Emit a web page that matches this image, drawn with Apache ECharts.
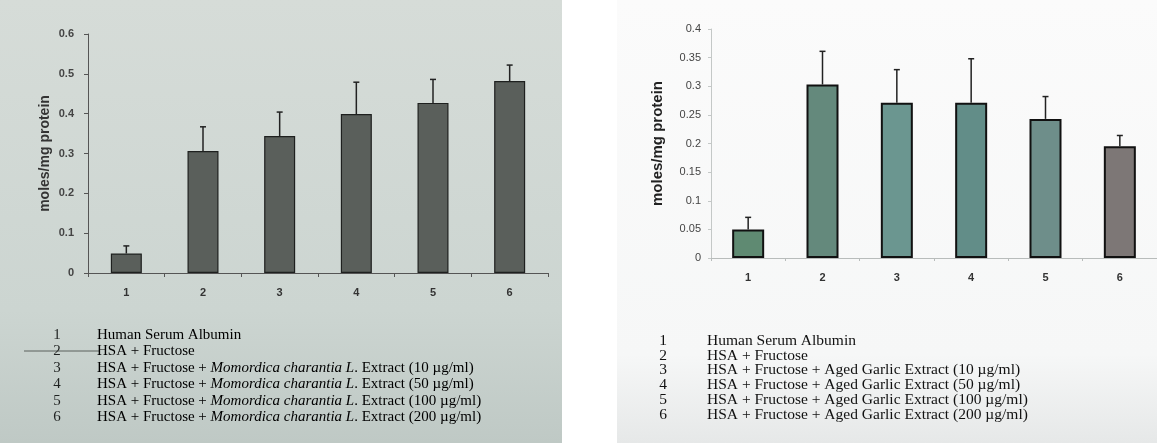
<!DOCTYPE html>
<html>
<head>
<meta charset="utf-8">
<script src="https://cdn.jsdelivr.net/npm/echarts@6/dist/echarts.min.js"></script>
<style>html,body{margin:0;padding:0;background:#fff;}#c{width:1157px;height:443px;}</style>
</head>
<body>
<div id="c"></div>
<script>
const categories = ['1', '2', '3', '4', '5', '6'];
const momordicaMeans = [0.049, 0.306, 0.344, 0.399, 0.427, 0.482];
const momordicaErr = [0.019, 0.061, 0.060, 0.080, 0.059, 0.040];
const garlicMeans = [0.050, 0.303, 0.271, 0.271, 0.243, 0.195];
const garlicErr = [0.021, 0.058, 0.058, 0.077, 0.039, 0.019];
const leftTicks = [0, 0.1, 0.2, 0.3, 0.4, 0.5, 0.6];
const rightTicks = [0, 0.05, 0.1, 0.15, 0.2, 0.25, 0.3, 0.35, 0.4];
const yAxisTitle = 'moles/mg protein';
const legendNums = ['1', '2', '3', '4', '5', '6'];
const legendLeft = [
  ['Human Serum Albumin', '', ''],
  ['HSA + Fructose', '', ''],
  ['HSA + Fructose + ', 'Momordica charantia L', '. Extract (10 µg/ml)'],
  ['HSA + Fructose + ', 'Momordica charantia L', '. Extract (50 µg/ml)'],
  ['HSA + Fructose + ', 'Momordica charantia L', '. Extract (100 µg/ml)'],
  ['HSA + Fructose + ', 'Momordica charantia L', '. Extract (200 µg/ml)']
];
const legendRight = [
  'Human Serum Albumin',
  'HSA + Fructose',
  'HSA + Fructose + Aged Garlic Extract (10 µg/ml)',
  'HSA + Fructose + Aged Garlic Extract (50 µg/ml)',
  'HSA + Fructose + Aged Garlic Extract (100 µg/ml)',
  'HSA + Fructose + Aged Garlic Extract (200 µg/ml)'
];
const garlicColors = ['#5f8a72', '#64897c', '#6b9690', '#628d88', '#6e8e8a', '#7d7776'];

const chart = echarts.init(document.getElementById('c'), null, {renderer: 'canvas'});

function errSeries(xi, yi, means, errs, capW) {
  return {
    type: 'custom', xAxisIndex: xi, yAxisIndex: yi, z: 5,
    data: means.map((m, i) => [i, m, m + errs[i]]),
    renderItem: function (params, api) {
      const p0 = api.coord([api.value(0), api.value(1)]);
      const p1 = api.coord([api.value(0), api.value(2)]);
      return {
        type: 'group', children: [
          {type: 'line', shape: {x1: p0[0], y1: p0[1], x2: p1[0], y2: p1[1]}, style: {stroke: '#222', lineWidth: 1.5}},
          {type: 'line', shape: {x1: p1[0] - capW, y1: p1[1], x2: p1[0] + capW, y2: p1[1]}, style: {stroke: '#222', lineWidth: 1.5}}
        ]
      };
    }
  };
}

const graphics = [
  {type: 'rect', z: -10, shape: {x: 0, y: 0, width: 562, height: 443},
   style: {fill: new echarts.graphic.LinearGradient(0, 0, 0, 1, [
     {offset: 0, color: '#d6dcd8'}, {offset: 0.7, color: '#ccd5d1'}, {offset: 1, color: '#bfc9c5'}])}},
  {type: 'rect', z: -10, shape: {x: 617, y: 0, width: 540, height: 443},
   style: {fill: new echarts.graphic.LinearGradient(0, 0, 0, 1, [
     {offset: 0, color: '#fbfbfb'}, {offset: 0.8, color: '#f6f7f7'}, {offset: 1, color: '#e6e8e8'}])}},
  {type: 'line', z: 10, shape: {x1: 24, y1: 351, x2: 100, y2: 351}, style: {stroke: '#5a605c', lineWidth: 1}}
];

legendNums.forEach((n, i) => {
  const yL = 335 + i * 16.4;
  graphics.push({type: 'text', z: 10, style: {text: n, x: 57, y: yL, align: 'center', verticalAlign: 'middle',
    font: '15px "Liberation Serif"', fill: '#1f2221'}});
  const parts = legendLeft[i];
  graphics.push({type: 'text', z: 10, style: {
    text: '{a|' + parts[0] + '}' + (parts[1] ? '{b|' + parts[1] + '}' : '') + (parts[2] ? '{a|' + parts[2] + '}' : ''),
    x: 97, y: yL, verticalAlign: 'middle',
    rich: {a: {fontFamily: 'Liberation Serif', fontSize: 15, color: '#1f2221'},
           b: {fontFamily: 'Liberation Serif', fontSize: 15, fontStyle: 'italic', color: '#1f2221'}}}});
  const yR = 341 + i * 14.7;
  graphics.push({type: 'text', z: 10, style: {text: n, x: 663, y: yR, align: 'center', verticalAlign: 'middle',
    font: '15.5px "Liberation Serif"', fill: '#111'}});
  graphics.push({type: 'text', z: 10, style: {text: legendRight[i], x: 707, y: yR, verticalAlign: 'middle',
    font: '15.5px "Liberation Serif"', fill: '#111'}});
});

chart.setOption({
  animation: false,
  backgroundColor: '#ffffff',
  graphic: graphics,
  grid: [
    {left: 88, top: 34, width: 460, height: 239},
    {left: 711, top: 29, width: 460, height: 229}
  ],
  xAxis: [
    {type: 'category', gridIndex: 0, data: categories,
     axisLine: {lineStyle: {color: '#555', width: 1}},
     axisTick: {show: true, length: 4, lineStyle: {color: '#555'}},
     axisLabel: {color: '#333', fontFamily: 'Liberation Sans', fontWeight: 'bold', fontSize: 11, margin: 14}},
    {type: 'category', gridIndex: 1, data: categories,
     axisLine: {lineStyle: {color: '#b8bcbb', width: 1}},
     axisTick: {show: true, length: 3, lineStyle: {color: '#b8bcbb'}},
     axisLabel: {color: '#333', fontFamily: 'Liberation Sans', fontWeight: 'bold', fontSize: 11, margin: 14}}
  ],
  yAxis: [
    {type: 'value', gridIndex: 0, min: leftTicks[0], max: leftTicks[leftTicks.length - 1], interval: 0.1,
     name: yAxisTitle, nameLocation: 'middle', nameGap: 36, nameRotate: 90,
     nameTextStyle: {fontFamily: 'Liberation Sans', fontWeight: 'bold', fontSize: 14, color: '#333'},
     axisLine: {show: true, lineStyle: {color: '#555'}},
     axisTick: {show: true, length: 4, lineStyle: {color: '#555'}},
     splitLine: {show: false},
     axisLabel: {color: '#444', fontFamily: 'Liberation Sans', fontWeight: 'bold', fontSize: 11, margin: 14,
       formatter: v => String(+v.toFixed(2))}},
    {type: 'value', gridIndex: 1, min: rightTicks[0], max: rightTicks[rightTicks.length - 1], interval: 0.05,
     name: yAxisTitle, nameLocation: 'middle', nameGap: 46, nameRotate: 90,
     nameTextStyle: {fontFamily: 'Liberation Sans', fontWeight: 'bold', fontSize: 15, color: '#222'},
     axisLine: {show: true, lineStyle: {color: '#c4c8c7'}},
     axisTick: {show: true, length: 3, lineStyle: {color: '#c4c8c7'}},
     splitLine: {show: false},
     axisLabel: {color: '#444', fontFamily: 'Liberation Sans', fontSize: 11, margin: 10,
       formatter: v => String(+v.toFixed(2))}}
  ],
  series: [
    {type: 'bar', xAxisIndex: 0, yAxisIndex: 0, data: momordicaMeans, barWidth: 31,
     itemStyle: {color: '#5a5f5b', borderColor: '#1e201f', borderWidth: 1.2}},
    errSeries(0, 0, momordicaMeans, momordicaErr, 3),
    {type: 'bar', xAxisIndex: 1, yAxisIndex: 1, barWidth: 32,
     data: garlicMeans.map((v, i) => ({value: v, itemStyle: {color: garlicColors[i]}})),
     itemStyle: {borderColor: '#111', borderWidth: 2}},
    errSeries(1, 1, garlicMeans, garlicErr, 3)
  ]
});
</script>
</body>
</html>
